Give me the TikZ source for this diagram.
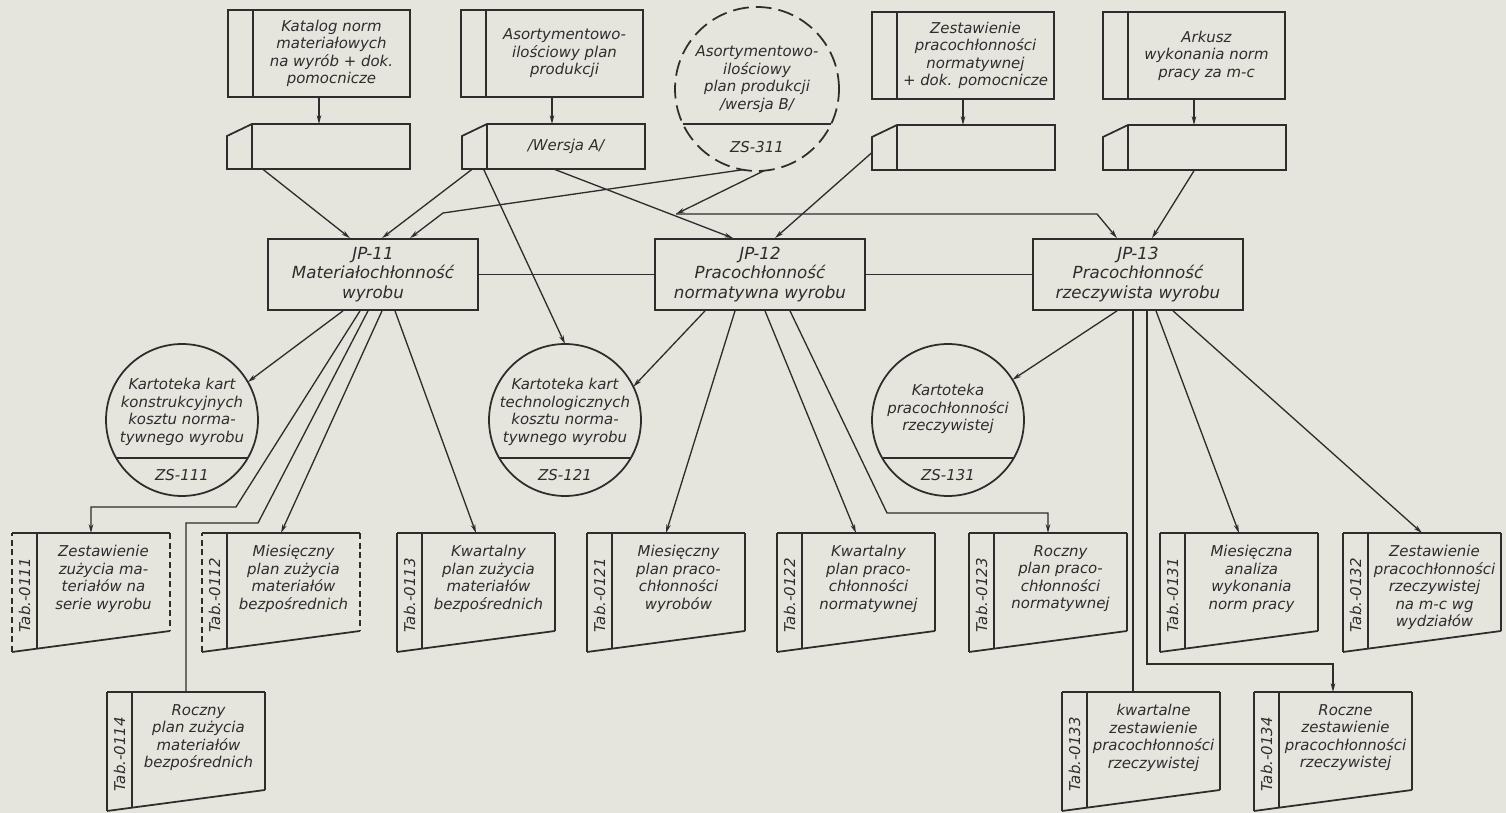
\documentclass[tikz,border=0pt]{standalone}
\usepackage{fontspec}
\setmainfont{DejaVu Sans}[ItalicFont={DejaVu Sans Oblique}]
\usepackage{xcolor}
\usepackage{tikz}
\usetikzlibrary{arrows.meta}

\definecolor{paper}{RGB}{229,228,221}
\definecolor{ink}{RGB}{45,45,45}

\tikzset{
  box line/.style={draw=ink,line width=1pt},
  conn/.style={draw=ink,line width=0.75pt},
  txt/.style={text=ink,font=\fontsize{8.5}{10}\selectfont\itshape,align=center,inner sep=0pt},
  srcbox/.style={rectangle,box line,minimum width=3.64cm,minimum height=1.74cm,inner sep=0pt,outer sep=0pt},
  cardbox/.style={rectangle,minimum width=3.66cm,minimum height=0.9cm,inner sep=0pt,outer sep=0pt},
  tabtop/.style={rectangle,minimum width=3.16cm,minimum height=1.96cm,inner sep=0pt,outer sep=0pt},
  zsring/.style={circle,box line,minimum size=3.04cm,inner sep=0pt,outer sep=0pt},
  jpbox/.style={rectangle,box line,txt,font=\fontsize{9.5}{11}\selectfont\itshape,minimum width=4.2cm,minimum height=1.42cm},
  dash side/.style={dash pattern=on 3.5pt off 2pt},
  plain side/.style={},
}

\begin{document}
\begin{tikzpicture}[>={Stealth[length=5pt,width=2.6pt]},x=0.02cm,y=-0.02cm] % schemat JP-11 .. JP-13
	\fill[paper] (0,0) rectangle (1506,813);
	\useasboundingbox (0,0) rectangle (1506,813);
	
	% dokumenty wejsciowe
	\foreach \nm/\x/\y/\txt in {b1/228/10/{Katalog norm\\materiałowych\\na wyrób + dok.\\pomocnicze},
		b2/461/10/{Asortymentowo-\\ilościowy plan\\produkcji},
		b4/872/12/{Zestawienie\\pracochłonności\\normatywnej\\+ dok. pomocnicze},
		b5/1103/12/{Arkusz\\wykonania norm\\pracy za m-c}}{
		\node[srcbox,anchor=north west] (\nm) at (\x,\y) {};
		\draw[box line] ([xshift=0.5cm]\nm.north west) -- ([xshift=0.5cm]\nm.south west);
		\node[txt] at ([xshift=0.25cm]\nm.center) {\txt};
	}
	
	% karty
	\foreach \nm/\x/\y/\txt in {cA/227/124/{},cB/462/124/{/Wersja A/},cC/872/125/{},cD/1103/125/{}}{
		\node[cardbox,anchor=north west] (\nm) at (\x,\y) {};
		\draw[box line] (\nm.south west) -- ([yshift=-0.24cm]\nm.north west) -- ([xshift=0.5cm]\nm.north west)
			-- (\nm.north east) -- (\nm.south east) -- cycle;
		\draw[box line] ([xshift=0.5cm]\nm.north west) -- ([xshift=0.5cm]\nm.south west);
		\node[txt] at ([xshift=0.25cm]\nm.center) {\txt};
	}
	
	\foreach \b/\c in {b1/cA,b2/cB,b4/cC,b5/cD}{
		\draw[conn,->] (\b.south) -- (\b.south |- \c.north);}
	
	% zbior ZS-311 (przerywany)
	\node[zsring,minimum size=3.28cm,dash pattern=on 9pt off 4pt] (zs311) at (757,89) {};
	\draw[box line] (zs311.205) -- (zs311.-25);
	\node[txt] at ([shift={(0,-10)}]zs311.center) {Asortymentowo-\\ilościowy\\plan produkcji\\/wersja B/};
	\node[txt] at ([shift={(0,58)}]zs311.center) {ZS-311};
	
	% jednostki JP
	\foreach \nm/\x/\txt in {jp11/373/{JP-11\\Materiałochłonność\\wyrobu},
		jp12/760/{JP-12\\Pracochłonność\\normatywna wyrobu},
		jp13/1138/{JP-13\\Pracochłonność\\rzeczywista wyrobu}}{
		\node[jpbox] (\nm) at (\x,274.5) {\txt};
	}
	\draw[conn] (jp11) -- (jp12);
	\draw[conn] (jp12) -- (jp13);
	
	% kartoteki
	\foreach \nm/\x/\y/\dy/\txt/\lab in {zs111/182/420/-8/{Kartoteka kart\\konstrukcyjnych\\kosztu norma-\\tywnego wyrobu}/ZS-111,
		zs121/565/420/-8/{Kartoteka kart\\technologicznych\\kosztu norma-\\tywnego wyrobu}/ZS-121,
		zs131/948/420/-11/{Kartoteka\\pracochłonności\\rzeczywistej}/ZS-131}{
		\node[zsring] (\nm) at (\x,\y) {};
		\draw[box line] (\nm.210) -- (\nm.-30);
		\node[txt] at ([shift={(0,\dy)}]\nm.center) {\txt};
		\node[txt] at ([shift={(0,55)}]\nm.center) {\lab};
	}
	
	% tabele wynikowe
	\foreach \nm/\x/\y/\tno/\txt/\side in {t0111/12/533/0111/{Zestawienie\\zużycia ma-\\teriałów na\\serie wyrobu}/dash side,
		t0112/202/533/0112/{Miesięczny\\plan zużycia\\materiałów\\bezpośrednich}/dash side,
		t0113/397/533/0113/{Kwartalny\\plan zużycia\\materiałów\\bezpośrednich}/plain side,
		t0114/107/692/0114/{Roczny\\plan zużycia\\materiałów\\bezpośrednich}/plain side,
		t0121/587/533/0121/{Miesięczny\\plan praco-\\chłonności\\wyrobów}/plain side,
		t0122/777/533/0122/{Kwartalny\\plan praco-\\chłonności\\normatywnej}/plain side,
		t0123/969/533/0123/{Roczny\\plan praco-\\chłonności\\normatywnej}/plain side,
		t0131/1160/533/0131/{Miesięczna\\analiza\\wykonania\\norm pracy}/plain side,
		t0132/1343/533/0132/{Zestawienie\\pracochłonności\\rzeczywistej\\na m-c wg\\wydziałów}/plain side,
		t0133/1062/692/0133/{kwartalne\\zestawienie\\pracochłonności\\rzeczywistej}/plain side,
		t0134/1254/692/0134/{Roczne\\zestawienie\\pracochłonności\\rzeczywistej}/plain side}{
		\node[tabtop,anchor=north west] (\nm) at (\x,\y) {};
		\draw[box line] (\nm.north west) -- (\nm.north east);
		\draw[box line,\side] (\nm.north east) -- (\nm.south east);
		\draw[box line] (\nm.south east) -- ([yshift=-0.42cm]\nm.south west);
		\draw[box line,\side] ([yshift=-0.42cm]\nm.south west) -- (\nm.north west);
		\draw[box line] ([xshift=0.5cm]\nm.north west) -- ([xshift=0.5cm,yshift=-0.354cm]\nm.south west);
		\node[txt,anchor=north] at ([xshift=0.25cm,yshift=-0.24cm]\nm.north) {\txt};
		\node[txt,rotate=90] at ([xshift=0.25cm,yshift=-1.25cm]\nm.north west) {Tab.-\tno};
	}
	
	% wejscia JP-11
	\draw[conn,->] ([shift={(-56,0)}]cA.south) -- ([shift={(-23,0)}]jp11.north);
	\draw[conn,->] ([shift={(-81,0)}]cB.south) -- ([shift={(9,0)}]jp11.north);
	\coordinate (k311) at (443,213);
	\draw[conn,->] (zs311.260) -- (k311) -- ([shift={(37,0)}]jp11.north);
	\draw[conn,->] ([shift={(-70,0)}]cB.south) -- (zs121.north);
	
	% wejscia JP-12, JP-13
	\draw[conn,->] (cB.south) -- ([shift={(-27,0)}]jp12.north);
	\draw[conn,->] ([shift={(0,5)}]cC.west) -- ([shift={(15,0)}]jp12.north);
	\coordinate (k12) at (676,214);
	\coordinate (k13) at (1097,214);
	\draw[conn,->] (zs311.275) -- (k12);
	\draw[conn,->] (k12) -- (k13) -- ([shift={(-21,0)}]jp13.north);
	\draw[conn,->] (cD.south) -- ([shift={(14,0)}]jp13.north);
	
	% wyjscia JP-11
	\draw[conn,->] ([shift={(-30,0)}]jp11.south) -- (zs111.30);
	\coordinate (k111) at (236,507);
	\draw[conn,->] ([shift={(-13,0)}]jp11.south) -- (k111) -| (t0111.north);
	\coordinate (k114) at (258,523);
	\draw[conn] ([shift={(-5,0)}]jp11.south) -- (k114) -| (t0114.north);
	\draw[conn,->] ([shift={(9,0)}]jp11.south) -- (t0112.north);
	\draw[conn,->] ([shift={(22,0)}]jp11.south) -- (t0113.north);
	
	% wyjscia JP-12
	\draw[conn,->] ([shift={(-55,0)}]jp12.south) -- (zs121.26);
	\draw[conn,->] ([shift={(-25,0)}]jp12.south) -- (t0121.north);
	\draw[conn,->] ([shift={(5,0)}]jp12.south) -- (t0122.north);
	\coordinate (k123) at (887,513);
	\draw[conn,->] ([shift={(30,0)}]jp12.south) -- (k123) -| (t0123.north);
	
	% wyjscia JP-13
	\draw[conn,->] ([shift={(-21,0)}]jp13.south) -- (zs131.32);
	\draw[conn] ([shift={(-8,0)}]t0133.north |- jp13.south) -- ([shift={(-8,0)}]t0133.north);
	\coordinate (k134) at (1147,664);
	\draw[conn,->] (k134 |- jp13.south) -- (k134) -| (t0134.north);
	\draw[conn,->] ([shift={(18,0)}]jp13.south) -- (t0131.north);
	\draw[conn,->] ([shift={(35,0)}]jp13.south) -- (t0132.north);
\end{tikzpicture}
\end{document}
